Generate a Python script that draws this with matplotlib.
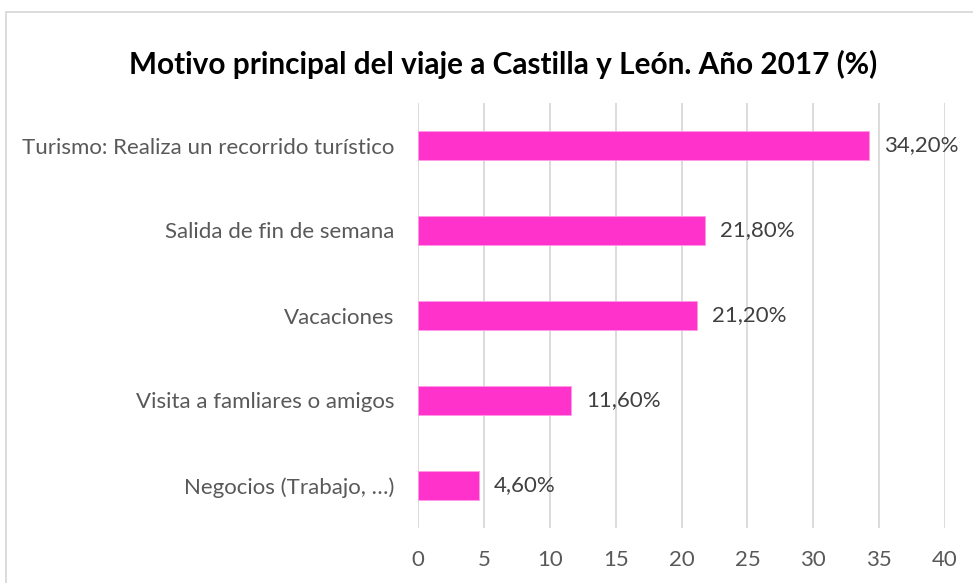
import matplotlib.pyplot as plt
from matplotlib.patches import Rectangle

# datos del grafico
motivos = ['Turismo: Realiza un recorrido turístico', 'Salida de fin de semana',
           'Vacaciones', 'Visita a famliares o amigos', 'Negocios (Trabajo, …)']
porcentajes = [34.2, 21.8, 21.2, 11.6, 4.6]
ticks_x = [0, 5, 10, 15, 20, 25, 30, 35, 40]

plt.rcParams['font.family'] = ['Lato', 'DejaVu Sans']

fig = plt.figure(figsize=(9.73, 5.83), dpi=100)
ax = fig.add_axes([418/973, 1-528/583, (945-418)/973, 425/583])

pos = list(range(len(motivos)))[::-1]
ax.barh(pos, porcentajes, height=0.35, color='#ff33cc', edgecolor='#ff99e6', linewidth=0.6, zorder=3)

# etiquetas de valor con coma decimal
for y, v in zip(pos, porcentajes):
    txt = ('%.2f' % v).replace('.', ',') + '%'
    ax.annotate(txt, (v, y), xytext=(15, 0), textcoords='offset pixels',
                va='center', ha='left', fontsize=16, color='#404040')

ax.set_xlim(0, 40)
ax.set_ylim(-0.5, len(motivos) - 0.5)
ax.set_xticks(ticks_x)
ax.set_xticklabels([str(t) for t in ticks_x])
ax.set_yticks(pos)
ax.set_yticklabels(motivos)
ax.tick_params(axis='both', length=0, labelsize=16, labelcolor='#595959')
ax.tick_params(axis='x', pad=16)
ax.tick_params(axis='y', pad=17)
ax.grid(axis='x', color='#d9d9d9', linewidth=1.3, zorder=0)
for s in ax.spines.values():
    s.set_visible(False)

fig.text(503/973, 1-64/583, 'Motivo principal del viaje a Castilla y León. Año 2017 (%)',
         ha='center', va='center', fontsize=21.4, fontweight='bold', color='black')

# borde del grafico
fig.patches.append(Rectangle((6/973, -0.1), 1.2, 1.1 - 12/583, transform=fig.transFigure,
                             fill=False, edgecolor='#d9d9d9', linewidth=1.3))

plt.savefig('out.png', dpi=100)
